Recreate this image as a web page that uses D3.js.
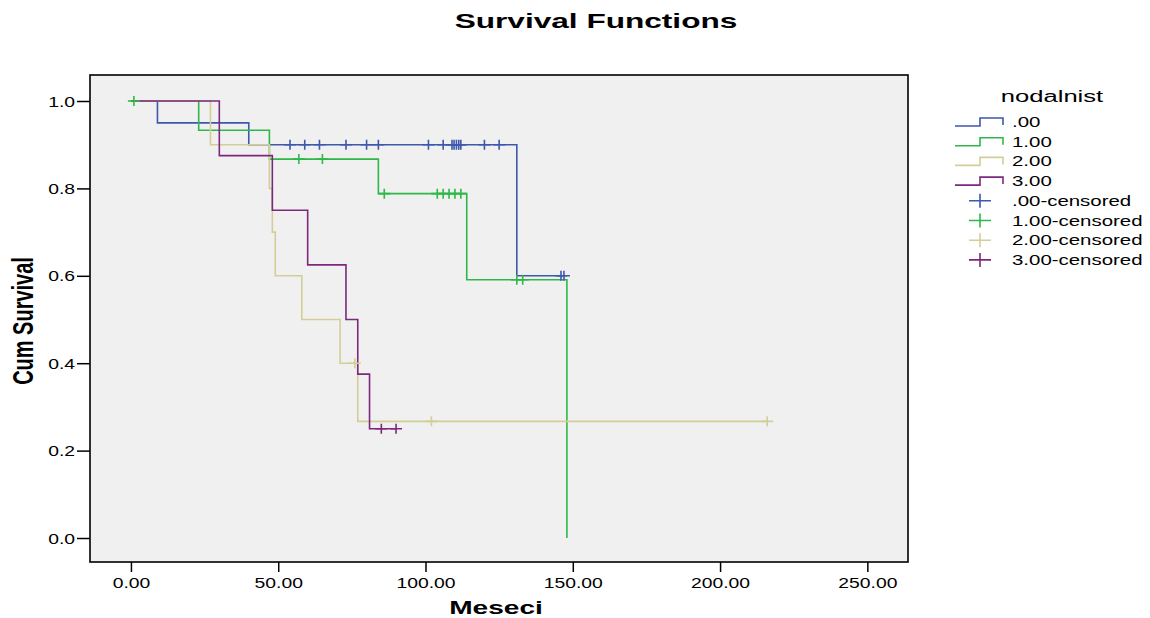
<!DOCTYPE html>
<html>
<head>
<meta charset="utf-8">
<script src="https://cdn.jsdelivr.net/npm/d3@7"></script>
<style>
  html, body { margin: 0; padding: 0; background: #ffffff; }
  svg { display: block; font-family: "Liberation Sans", Arial, sans-serif; }
</style>
</head>
<body>
<svg id="chart" width="1150" height="618"></svg>
<script>
// Kaplan-Meier survival by nodal status (months)
const groupNames = [".00", "1.00", "2.00", "3.00"];
const groupColors = ["#3e58ac", "#2eb848", "#d3ce97", "#7c287d"];

// event times and cumulative survival after each event
const eventTimes0 = [9, 40, 131];
const survival0   = [0.95, 0.90, 0.60];
const censored0   = [54, 59, 64, 73, 80, 84, 101, 106, 109, 109.7, 110.5, 111.3, 112, 120, 125, 146, 147];

const eventTimes1 = [23, 47, 84, 114, 148];
const survival1   = [0.933, 0.867, 0.788, 0.591, 0.0];
const censored1   = [1, 57, 65, 86, 104, 106, 108, 110, 112, 131, 133];

const eventTimes2 = [27, 47, 48, 49, 58, 71, 77];
const survival2   = [0.90, 0.80, 0.70, 0.60, 0.50, 0.40, 0.267];
const censored2   = [76, 102, 216];

const eventTimes3 = [30, 48, 60, 73, 77, 81];
const survival3   = [0.875, 0.75, 0.625, 0.50, 0.375, 0.25];
const censored3   = [85, 90];

const xTicks = [0, 50, 100, 150, 200, 250];
const yTicks = [0, 0.2, 0.4, 0.6, 0.8, 1.0];

const titleText = "Survival Functions";
const xLabel = "Meseci";
const yLabel = "Cum Survival";
const legendTitle = "nodalnist";

const groups = [
  { times: eventTimes0, surv: survival0, cens: censored0 },
  { times: eventTimes1, surv: survival1, cens: censored1 },
  { times: eventTimes2, surv: survival2, cens: censored2 },
  { times: eventTimes3, surv: survival3, cens: censored3 }
].map((g, i) => ({ ...g, name: groupNames[i], color: groupColors[i] }));

const svg = d3.select("#chart");
const plot = { left: 90, right: 908, top: 75, bottom: 562 };

const x = d3.scaleLinear().domain([-13.9, 263.8]).range([plot.left, plot.right]);
const y = d3.scaleLinear().domain([-0.0549, 1.0595]).range([plot.bottom, plot.top]);

// horizontally widened text helper
function wideText(sel, tx, ty, sx, str, opts = {}) {
  const t = sel.append("text")
    .attr("transform", `translate(${tx},${ty}) scale(${sx},1)` + (opts.rotate ? ` rotate(${opts.rotate})` : ""))
    .attr("text-anchor", opts.anchor || "start")
    .attr("font-size", opts.size || 14)
    .attr("font-weight", opts.weight || "normal")
    .attr("fill", "#000")
    .text(str);
  return t;
}

// plot background
svg.append("rect")
  .attr("x", plot.left).attr("y", plot.top)
  .attr("width", plot.right - plot.left).attr("height", plot.bottom - plot.top)
  .attr("fill", "#f0f0f0");

// axes
const yAxis = d3.axisLeft(y).tickValues(yTicks).tickFormat(d3.format(".1f")).tickSize(13).tickSizeOuter(0);
const gy = svg.append("g").attr("transform", `translate(${plot.left},0)`).call(yAxis);
gy.select(".domain").remove();
gy.selectAll(".tick line").attr("stroke", "#000").attr("stroke-width", 1.5);
gy.selectAll(".tick text")
  .attr("x", 0).attr("dy", "0.36em")
  .attr("transform", "translate(-15,0) scale(1.38,1)")
  .attr("font-size", 14).attr("font-family", "Liberation Sans, Arial, sans-serif").attr("fill", "#000");

const xAxis = d3.axisBottom(x).tickValues(xTicks).tickFormat(d3.format(".2f")).tickSize(10).tickSizeOuter(0);
const gx = svg.append("g").attr("transform", `translate(0,${plot.bottom})`).call(xAxis);
gx.select(".domain").remove();
gx.selectAll(".tick line").attr("stroke", "#000").attr("stroke-width", 1.5);
gx.selectAll(".tick text")
  .attr("y", 26).attr("dy", 0)
  .attr("transform", "scale(1.38,1)")
  .attr("font-size", 14).attr("font-family", "Liberation Sans, Arial, sans-serif").attr("fill", "#000");

// survival step curves
const stepLine = d3.line().x(d => x(d[0])).y(d => y(d[1])).curve(d3.curveStepAfter);

function survivalAt(g, t) {
  let s = 1;
  g.times.forEach((et, i) => { if (et <= t) s = g.surv[i]; });
  return s;
}

const curves = svg.append("g");
groups.forEach(g => {
  const pts = [[0, 1]];
  g.times.forEach((t, i) => pts.push([t, g.surv[i]]));
  const lastEvent = d3.max(g.times);
  const lastCens = d3.max(g.cens);
  if (lastCens > lastEvent) pts.push([lastCens, g.surv[g.surv.length - 1]]);
  curves.append("path")
    .attr("d", stepLine(pts))
    .attr("fill", "none")
    .attr("stroke", g.color)
    .attr("stroke-width", 1.6);
});

// censored marks
const marks = svg.append("g");
groups.forEach(g => {
  g.cens.forEach(t => {
    const cx = x(t), cy = y(survivalAt(g, t));
    marks.append("path")
      .attr("d", `M${cx - 6},${cy}H${cx + 6}M${cx},${cy - 5}V${cy + 5}`)
      .attr("stroke", g.color)
      .attr("stroke-width", 1.6)
      .attr("fill", "none");
  });
});

// frame
svg.append("rect")
  .attr("x", plot.left).attr("y", plot.top)
  .attr("width", plot.right - plot.left).attr("height", plot.bottom - plot.top)
  .attr("fill", "none").attr("stroke", "#000").attr("stroke-width", 1.6);

// titles
wideText(svg, 596, 28, 1.58, titleText, { anchor: "middle", size: 20, weight: "bold" });
wideText(svg, 496, 614, 1.48, xLabel, { anchor: "middle", size: 19, weight: "bold" });
wideText(svg, 33, 321, 1.45, yLabel, { anchor: "middle", size: 20, weight: "bold", rotate: -90 });

// legend
const legend = svg.append("g");
wideText(legend, 1052, 102, 1.6, legendTitle, { anchor: "middle", size: 16 });
const rowY = i => 122 + i * 19.7;
groups.forEach((g, i) => {
  const cy = rowY(i);
  legend.append("path")
    .attr("d", `M955,${cy + 4}H980V${cy - 4}H1003V${cy + 3}`)
    .attr("fill", "none").attr("stroke", g.color).attr("stroke-width", 1.6);
  wideText(legend, 1012, cy + 5, 1.46, g.name, { size: 14 });
});
groups.forEach((g, i) => {
  const cy = rowY(i + 4);
  legend.append("path")
    .attr("d", `M969,${cy}H991M980,${cy - 7}V${cy + 7}`)
    .attr("fill", "none").attr("stroke", g.color).attr("stroke-width", 1.6);
  wideText(legend, 1012, cy + 5, 1.46, g.name + "-censored", { size: 14 });
});
</script>
</body>
</html>
